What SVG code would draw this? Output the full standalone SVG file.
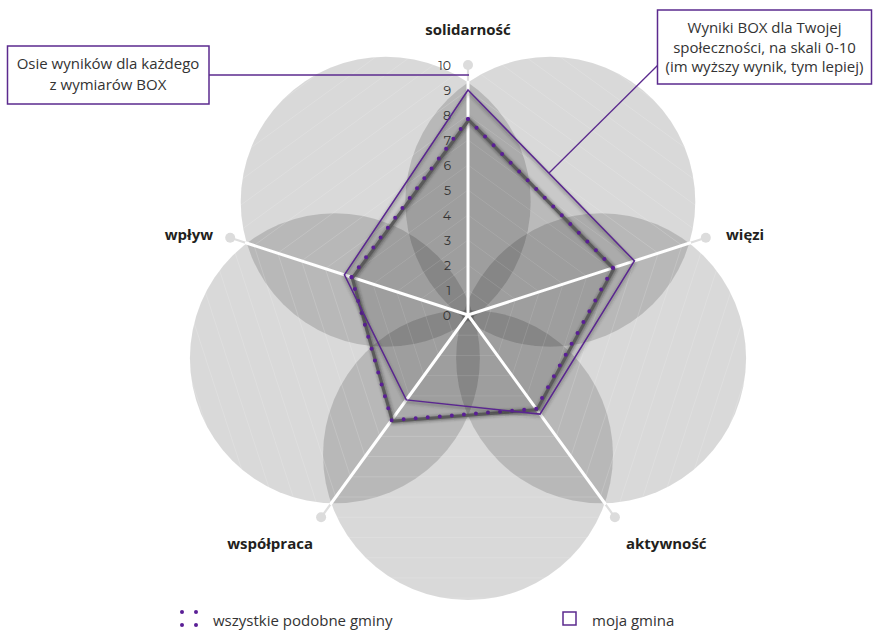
<svg xmlns="http://www.w3.org/2000/svg" width="877" height="631" viewBox="0 0 877 631">
  <defs>
    <style>
      .circ { fill:#000; fill-opacity:0.15; }
      .grid { fill:none; stroke:#fff; stroke-opacity:0.2; stroke-width:0.8; }
      .axis { stroke:#fff; stroke-width:3; stroke-linecap:round; }
      .axout { stroke:#dedede; stroke-width:2.2; }
      .axdot { fill:#dcdcdc; }
      .num { font-family:"Montserrat","Open Sans","Liberation Sans",sans-serif; font-size:12.5px; fill:#333; text-anchor:end; }
      .lab { font-family:"Open Sans","Liberation Sans",sans-serif; font-weight:bold; font-size:15px; fill:#231f20; }
      .txt { font-family:"Open Sans","Liberation Sans",sans-serif; font-size:15px; fill:#333; }
      .box { fill:#fff; stroke:#5b2a8e; stroke-width:1.5; }
      .lead { fill:none; stroke:#5b2a8e; stroke-width:1.3; }
      .mine { fill:none; stroke:#5a2690; stroke-width:1.5; stroke-linejoin:miter; }
      .alldots { fill:none; stroke:#5a1e96; stroke-width:4; stroke-linecap:round; }
    </style>
    <filter id="soft" x="-20%" y="-20%" width="140%" height="140%">
      <feGaussianBlur stdDeviation="1.8"/>
    </filter>
    <clipPath id="flower">
      <circle cx="385.7" cy="201.7" r="145"/>
      <circle cx="550.3" cy="201.7" r="145"/>
      <circle cx="601.1" cy="358.3" r="145"/>
      <circle cx="468" cy="455" r="145"/>
      <circle cx="334.9" cy="358.3" r="145"/>
    </clipPath>
    <polygon id="pent" points="0,-25 23.776,-7.725 14.695,20.225 -14.695,20.225 -23.776,-7.725"/>
  </defs>

  <g id="axes-outer">
    <line class="axout" x1="468" y1="315" x2="468" y2="65"/>
    <line class="axout" x1="468" y1="315" x2="705.8" y2="237.7"/>
    <line class="axout" x1="468" y1="315" x2="614.9" y2="517.3"/>
    <line class="axout" x1="468" y1="315" x2="321.1" y2="517.3"/>
    <line class="axout" x1="468" y1="315" x2="230.2" y2="237.7"/>
    <circle class="axdot" cx="468" cy="65" r="5"/>
    <circle class="axdot" cx="705.8" cy="237.7" r="5"/>
    <circle class="axdot" cx="614.9" cy="517.3" r="5"/>
    <circle class="axdot" cx="321.1" cy="517.3" r="5"/>
    <circle class="axdot" cx="230.2" cy="237.7" r="5"/>
  </g>

  <g id="circles">
    <circle class="circ" cx="385.7" cy="201.7" r="145"/>
    <circle class="circ" cx="550.3" cy="201.7" r="145"/>
    <circle class="circ" cx="601.1" cy="358.3" r="145"/>
    <circle class="circ" cx="468" cy="455" r="145"/>
    <circle class="circ" cx="334.9" cy="358.3" r="145"/>
  </g>

  <g id="grid" clip-path="url(#flower)">
    <g transform="translate(468 315)">
      <use href="#pent" class="grid" transform="scale(1)"/>
      <use href="#pent" class="grid" transform="scale(2)" style="stroke-width:0.4"/>
      <use href="#pent" class="grid" transform="scale(3)" style="stroke-width:0.27"/>
      <use href="#pent" class="grid" transform="scale(4)" style="stroke-width:0.2"/>
      <use href="#pent" class="grid" transform="scale(5)" style="stroke-width:0.16"/>
      <use href="#pent" class="grid" transform="scale(6)" style="stroke-width:0.133"/>
      <use href="#pent" class="grid" transform="scale(7)" style="stroke-width:0.114"/>
      <use href="#pent" class="grid" transform="scale(8)" style="stroke-width:0.1"/>
      <use href="#pent" class="grid" transform="scale(9)" style="stroke-width:0.089"/>
      <use href="#pent" class="grid" transform="scale(10)" style="stroke-width:0.08"/>
      <use href="#pent" class="grid" transform="scale(11)" style="stroke-width:0.073"/>
      <use href="#pent" class="grid" transform="scale(12)" style="stroke-width:0.067"/>
      <use href="#pent" class="grid" transform="scale(13)" style="stroke-width:0.062"/>
      <use href="#pent" class="grid" transform="scale(14)" style="stroke-width:0.057"/>
    </g>
  </g>

  <g id="series-fills">
    <polygon points="468,90 634.4,260.9 540,414.1 406.3,399.9 344.4,274.8" fill="#000" fill-opacity="0.07"/>
    <polygon points="468,119 613,267.9 536.2,408.8 391.6,420.2 351.5,277.1" fill="#000" fill-opacity="0.07"/>
  </g>

  <g id="axes">
    <line class="axis" x1="468" y1="315" x2="468" y2="82"/>
    <line class="axis" x1="468" y1="315" x2="689.6" y2="243"/>
    <line class="axis" x1="468" y1="315" x2="605" y2="503.5"/>
    <line class="axis" x1="468" y1="315" x2="331" y2="503.5"/>
    <line class="axis" x1="468" y1="315" x2="246.4" y2="243"/>
  </g>

  <g id="scale">
    <text class="num" x="451" y="319.5">0</text>
    <text class="num" x="451" y="294.5">1</text>
    <text class="num" x="451" y="269.5">2</text>
    <text class="num" x="451" y="244.5">3</text>
    <text class="num" x="451" y="219.5">4</text>
    <text class="num" x="451" y="194.5">5</text>
    <text class="num" x="451" y="169.5">6</text>
    <text class="num" x="451" y="144.5">7</text>
    <text class="num" x="451" y="119.5">8</text>
    <text class="num" x="451" y="94.5">9</text>
    <text class="num" x="451" y="69.5">10</text>
  </g>

  <g id="series-all">
    <polygon points="469,120.5 614.5,269.4 537.7,410.3 393.1,421.7 353,278.6" fill="none" stroke="#222" stroke-opacity="0.45" stroke-width="5" filter="url(#soft)"/>
    <polygon points="468.8,120 613.8,268.9 537,409.8 392.4,421.2 352.3,278.1" fill="none" stroke="#5a5a5a" stroke-width="3" stroke-linejoin="round"/>
    <path class="alldots" d="M468,119 L613,267.9" stroke-dasharray="0 12.22"/>
    <path class="alldots" d="M613,267.9 L536.2,408.8" stroke-dasharray="0 12.35"/>
    <path class="alldots" d="M536.2,408.8 L391.6,420.2" stroke-dasharray="0 12.09"/>
    <path class="alldots" d="M391.6,420.2 L351.5,277.1" stroke-dasharray="0 12.38"/>
    <path class="alldots" d="M351.5,277.1 L468,119" stroke-dasharray="0 12.27"/>
  </g>

  <g id="series-mine">
    <polygon points="468,92 634.4,262.9 540,416.1 406.3,401.9 344.4,276.8" fill="none" stroke="#333" stroke-opacity="0.3" stroke-width="3" filter="url(#soft)"/>
    <polygon class="mine" points="468,90 634.4,260.9 540,414.1 406.3,399.9 344.4,274.8"/>
  </g>

  <g id="labels">
    <text class="lab" x="468" y="35" text-anchor="middle">solidarność</text>
    <text class="lab" x="726" y="240">więzi</text>
    <text class="lab" x="213" y="240" text-anchor="end">wpływ</text>
    <text class="lab" x="313" y="549" text-anchor="end">współpraca</text>
    <text class="lab" x="626" y="549">aktywność</text>
  </g>

  <g id="connectors">
    <line class="lead" x1="209" y1="75" x2="469" y2="75"/>
    <line class="lead" x1="658" y1="65" x2="549" y2="173"/>
  </g>

  <g id="callout-left">
    <rect class="box" x="7.5" y="46" width="201.5" height="58"/>
    <text class="txt" x="108" y="69" text-anchor="middle">Osie wyników dla każdego</text>
    <text class="txt" x="108" y="90" text-anchor="middle">z wymiarów BOX</text>
  </g>

  <g id="callout-right">
    <rect class="box" x="657.5" y="10" width="214" height="74"/>
    <text class="txt" x="764.5" y="33" text-anchor="middle">Wyniki BOX dla Twojej</text>
    <text class="txt" x="764.5" y="52.5" text-anchor="middle">społeczności, na skali 0-10</text>
    <text class="txt" x="764.5" y="72" text-anchor="middle">(im wyższy wynik, tym lepiej)</text>
  </g>

  <g id="legend">
    <g id="legend-all">
      <circle cx="182" cy="612" r="2" fill="#5a1e96"/>
      <circle cx="196" cy="612" r="2" fill="#5a1e96"/>
      <circle cx="182" cy="625" r="2" fill="#5a1e96"/>
      <circle cx="196" cy="625" r="2" fill="#5a1e96"/>
      <text class="txt" x="213" y="626">wszystkie podobne gminy</text>
    </g>
    <g id="legend-mine">
      <rect x="563" y="612" width="13" height="13" fill="#fff" stroke="#5b2a8e" stroke-width="1.5"/>
      <text class="txt" x="592" y="626">moja gmina</text>
    </g>
  </g>
</svg>
